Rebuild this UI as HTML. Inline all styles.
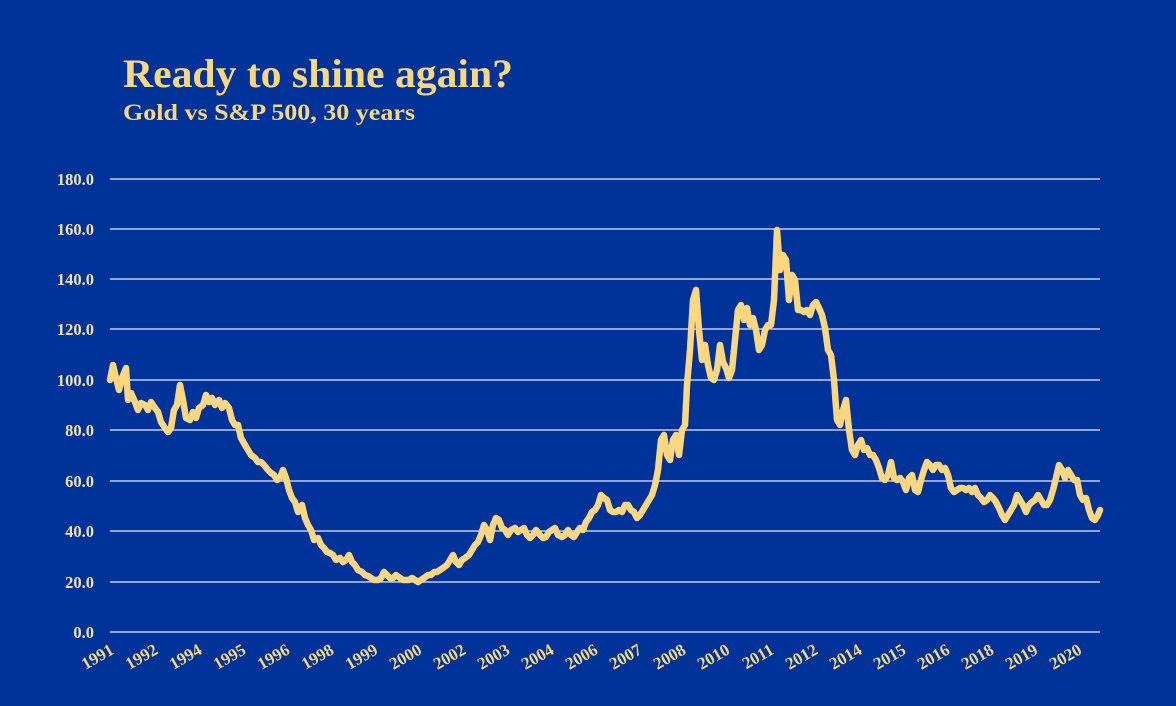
<!DOCTYPE html>
<html><head><meta charset="utf-8"><style>
html,body{margin:0;padding:0;background:#003399;}
svg{display:block;}
</style></head><body>
<svg width="1176" height="706" viewBox="0 0 1176 706" xmlns="http://www.w3.org/2000/svg">
<rect width="1176" height="706" fill="#003399"/>
<text x="123" y="87" font-family="Liberation Serif, serif" font-weight="bold" font-size="40" textLength="390" lengthAdjust="spacingAndGlyphs" fill="#f9d77e">Ready to shine again?</text>
<text x="123" y="120" font-family="Liberation Serif, serif" font-weight="bold" font-size="23" textLength="292" lengthAdjust="spacingAndGlyphs" fill="#f9d77e">Gold vs S&amp;P 500, 30 years</text>
<g stroke="#e8ecf6" stroke-width="1.2">
<line x1="110" y1="179" x2="1100" y2="179"/><line x1="110" y1="229" x2="1100" y2="229"/>
<line x1="110" y1="279" x2="1100" y2="279"/><line x1="110" y1="329" x2="1100" y2="329"/>
<line x1="110" y1="380" x2="1100" y2="380"/><line x1="110" y1="430" x2="1100" y2="430"/>
<line x1="110" y1="481" x2="1100" y2="481"/><line x1="110" y1="531" x2="1100" y2="531"/>
<line x1="110" y1="582" x2="1100" y2="582"/><line x1="110" y1="632" x2="1100" y2="632"/>
</g>
<g font-family="Liberation Serif, serif" font-weight="bold" font-size="16.5" fill="#f2e2b0" text-anchor="end">
<text x="94" y="185">180.0</text><text x="94" y="235">160.0</text><text x="94" y="285">140.0</text>
<text x="94" y="335">120.0</text><text x="94" y="386">100.0</text><text x="94" y="436">80.0</text>
<text x="94" y="487">60.0</text><text x="94" y="537">40.0</text><text x="94" y="588">20.0</text>
<text x="94" y="638">0.0</text>
</g>
<g font-family="Liberation Serif, serif" font-weight="bold" font-size="17" fill="#f9d77e" text-anchor="end">
<text transform="translate(115,653) rotate(-30)">1991</text>
<text transform="translate(159,653) rotate(-30)">1992</text>
<text transform="translate(203,653) rotate(-30)">1994</text>
<text transform="translate(247,653) rotate(-30)">1995</text>
<text transform="translate(291,653) rotate(-30)">1996</text>
<text transform="translate(335,653) rotate(-30)">1998</text>
<text transform="translate(379,653) rotate(-30)">1999</text>
<text transform="translate(423,653) rotate(-30)">2000</text>
<text transform="translate(467,653) rotate(-30)">2002</text>
<text transform="translate(511,653) rotate(-30)">2003</text>
<text transform="translate(555,653) rotate(-30)">2004</text>
<text transform="translate(599,653) rotate(-30)">2006</text>
<text transform="translate(643,653) rotate(-30)">2007</text>
<text transform="translate(687,653) rotate(-30)">2008</text>
<text transform="translate(731,653) rotate(-30)">2010</text>
<text transform="translate(775,653) rotate(-30)">2011</text>
<text transform="translate(819,653) rotate(-30)">2012</text>
<text transform="translate(863,653) rotate(-30)">2014</text>
<text transform="translate(907,653) rotate(-30)">2015</text>
<text transform="translate(951,653) rotate(-30)">2016</text>
<text transform="translate(995,653) rotate(-30)">2018</text>
<text transform="translate(1039,653) rotate(-30)">2019</text>
<text transform="translate(1083,653) rotate(-30)">2020</text>
</g>
<polyline fill="none" stroke="#fcd77f" stroke-width="6.5" stroke-linejoin="round" stroke-linecap="round" points="110,380 113,365 116,378 119,390 122,378 126,368 128,400 131,393 135,402 138,410 141,403 145,405 148,410 151,402 155,408 158,412 161,422 165,428 168,432 171,428 174,410 177,405 180,385 183,400 186,418 190,420 193,412 196,418 199,408 203,405 206,395 209,402 212,398 215,405 219,400 222,408 225,403 229,408 232,420 235,425 238,425 241,438 245,445 248,450 251,455 255,458 258,462 261,462 264,465 268,470 271,473 274,475 277,480 280,478 283,470 286,478 289,490 292,498 295,502 298,512 302,505 305,518 308,525 311,530 314,540 318,538 321,545 324,548 327,552 330,553 333,555 336,560 340,558 343,562 346,560 349,555 352,562 355,565 358,570 362,572 365,575 368,576 371,578 374,580 378,580 381,578 384,572 387,575 390,578 393,578 396,575 400,578 403,580 406,580 409,580 412,578 415,580 418,582 421,580 424,578 428,575 431,575 434,572 437,572 440,570 443,568 447,565 450,560 453,555 456,562 459,565 462,560 465,558 469,555 472,550 475,545 478,542 481,535 484,525 487,530 490,540 493,525 496,518 499,520 502,528 505,530 508,535 511,530 515,528 518,532 521,530 524,528 527,535 530,538 533,535 536,530 540,535 543,538 546,537 549,532 552,530 555,528 558,535 562,537 565,535 568,530 571,535 574,537 577,532 580,528 583,530 586,522 589,518 592,512 595,510 598,505 601,495 604,498 607,500 610,510 613,512 616,512 619,510 622,512 625,505 628,505 631,510 634,512 637,518 640,515 643,510 646,505 649,500 652,495 655,485 658,470 661,440 664,435 667,455 670,460 673,440 676,435 679,455 682,430 685,425 687,385 690,350 693,300 696,290 699,330 702,360 705,345 708,365 711,378 714,380 717,370 720,345 723,362 726,368 729,378 732,370 735,340 738,310 741,305 744,320 747,308 750,325 753,318 756,330 759,350 762,345 765,330 768,325 771,325 774,300 777,230 780,270 783,255 786,260 789,300 792,275 795,280 798,310 801,310 804,312 807,310 810,315 813,305 816,302 819,308 822,315 825,328 828,350 831,355 834,380 837,420 840,425 843,410 846,400 849,430 852,450 855,455 858,445 861,440 864,450 867,448 870,455 873,455 876,460 879,468 882,478 885,480 888,475 891,462 894,478 897,480 900,478 903,482 906,490 909,478 912,475 915,490 918,492 921,480 924,470 927,462 930,465 933,470 936,465 939,465 942,470 945,468 948,475 951,488 954,492 957,490 960,488 963,488 966,490 969,488 972,492 975,488 978,495 981,498 984,502 987,500 990,495 993,498 996,502 999,508 1002,515 1005,520 1008,515 1011,510 1014,505 1017,495 1020,500 1023,505 1026,512 1029,505 1032,502 1035,500 1038,495 1041,500 1044,505 1047,505 1050,500 1053,490 1056,478 1059,465 1062,470 1065,478 1068,470 1071,475 1074,480 1077,480 1080,495 1083,500 1086,498 1089,510 1092,518 1095,520 1098,515 1100,510"/>
</svg>
</body></html>
